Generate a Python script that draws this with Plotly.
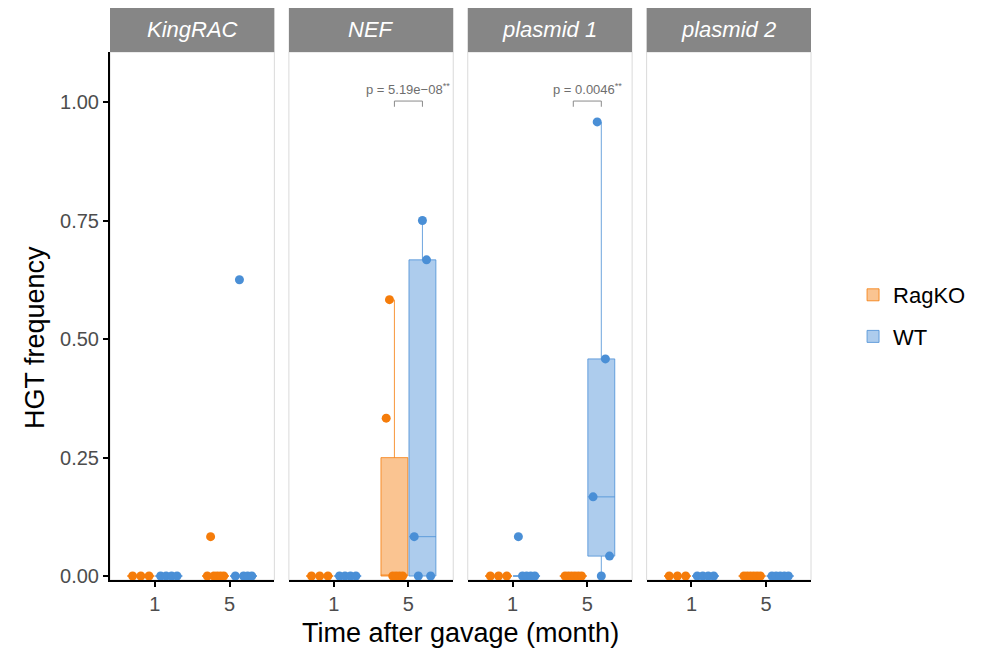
import numpy as np
import plotly.graph_objects as go
from plotly.subplots import make_subplots

# ---------------- data ----------------
panels = ["KingRAC", "NEF", "plasmid 1", "plasmid 2"]
time_labels = ["1", "5"]
groups = ["RagKO", "WT"]

# HGT frequency per mouse, [panel][time] for each genotype
ragko = {
    "KingRAC":   [[0, 0, 0], [0, 0.083, 0, 0, 0, 0]],
    "NEF":       [[0, 0, 0], [0.333, 0.583, 0, 0, 0, 0]],
    "plasmid 1": [[0, 0, 0], [0, 0, 0, 0, 0, 0]],
    "plasmid 2": [[0, 0, 0], [0, 0, 0, 0, 0, 0]],
}
wt = {
    "KingRAC":   [[0, 0, 0, 0], [0, 0.625, 0, 0, 0]],
    "NEF":       [[0, 0, 0, 0], [0.083, 0, 0.75, 0.667, 0]],
    "plasmid 1": [[0.083, 0, 0, 0, 0], [0.167, 0.958, 0, 0.458, 0.042]],
    "plasmid 2": [[0, 0, 0, 0], [0, 0, 0, 0, 0]],
}
# significance annotations (panel, time index, label)
sig_panels = ["NEF", "plasmid 1"]
sig_time = [1, 1]
sig_labels = ["p = 5.19e\u221208<sup>**</sup>", "p = 0.0046<sup>**</sup>"]

yticks = [0, 0.25, 0.5, 0.75, 1.0]
ytick_labels = ["0.00", "0.25", "0.50", "0.75", "1.00"]

# ---------------- style ----------------
colors = {"RagKO": "#F57C0A", "WT": "#4A8FD6"}
fills = {"RagKO": "rgba(245,124,10,0.45)", "WT": "rgba(74,143,214,0.45)"}
lines = {"RagKO": "rgba(245,124,10,0.8)", "WT": "rgba(74,143,214,0.8)"}
FONT = "Liberation Sans, Arial, sans-serif"
dodge = 0.1875
box_w = 0.36
jit = 0.11
strip_h = 44 / 528

fig = make_subplots(rows=1, cols=4, shared_yaxes=True, horizontal_spacing=0.0207)


def stats(vals):
    v = np.array(vals, dtype=float)
    q1, med, q3 = np.percentile(v, [25, 50, 75])
    iqr = q3 - q1
    lo = v[v >= q1 - 1.5 * iqr].min()
    hi = v[v <= q3 + 1.5 * iqr].max()
    return q1, med, q3, lo, hi


legend_done = set()
for pi, panel in enumerate(panels):
    col = pi + 1
    for gi, g in enumerate(groups):
        data = ragko if g == "RagKO" else wt
        off = -dodge if g == "RagKO" else dodge
        for ti in range(len(time_labels)):
            vals = data[panel][ti]
            pos = ti + 1 + off
            q1, med, q3, lo, hi = stats(vals)
            show = g not in legend_done
            legend_done.add(g)
            fig.add_trace(go.Box(
                x=[pos], q1=[q1], median=[med], q3=[q3],
                lowerfence=[lo], upperfence=[hi],
                width=box_w, whiskerwidth=0,
                fillcolor=fills[g], line=dict(color=lines[g], width=1),
                boxpoints=False, name=g, legendgroup=g, showlegend=show,
                hoverinfo="skip",
            ), row=1, col=col)
    for gi, g in enumerate(groups):
        data = ragko if g == "RagKO" else wt
        off = -dodge if g == "RagKO" else dodge
        for ti in range(len(time_labels)):
            vals = data[panel][ti]
            n = len(vals)
            offs = np.linspace(-jit, jit, n) if n > 1 else np.zeros(1)
            xs = ti + 1 + off + offs
            fig.add_trace(go.Scatter(
                x=xs, y=vals, mode="markers",
                marker=dict(color=colors[g], size=9),
                legendgroup=g, showlegend=False, hoverinfo="skip",
            ), row=1, col=col)

    xa = "x" if col == 1 else f"x{col}"
    ya = "y" if col == 1 else f"y{col}"
    # panel border
    fig.add_shape(type="rect", xref=f"{xa} domain", yref=f"{ya} domain",
                  x0=0, x1=1, y0=0, y1=1, line=dict(color="#DADADA", width=1),
                  layer="below")
    # strip
    fig.add_shape(type="rect", xref=f"{xa} domain", yref=f"{ya} domain",
                  x0=0, x1=1, y0=1, y1=1 + strip_h,
                  fillcolor="#868686", line=dict(color="#868686", width=0))
    fig.add_annotation(xref=f"{xa} domain", yref=f"{ya} domain",
                       x=0.5, y=1 + strip_h / 2, text=f"<i>{panel}</i>",
                       showarrow=False, yanchor="middle",
                       font=dict(family=FONT, size=22, color="white"))

    fig.update_xaxes(row=1, col=col, range=[0.4, 2.6], tickvals=[1, 2],
                     ticktext=time_labels, showgrid=False, zeroline=False,
                     showline=True, linecolor="black", linewidth=2,
                     ticks="outside", ticklen=5, tickwidth=1.5, tickcolor="black",
                     tickfont=dict(family=FONT, size=20, color="#4D4D4D"))
    fig.update_yaxes(row=1, col=col, range=[-0.0084, 1.1055], showgrid=False,
                     zeroline=False)

# significance brackets
for sp, st, lab in zip(sig_panels, sig_time, sig_labels):
    col = panels.index(sp) + 1
    xa = f"x{col}"
    ya = f"y{col}"
    x0 = st + 1 - dodge
    x1 = st + 1 + dodge
    yb, yt = 0.990, 1.002
    fig.add_shape(type="path", xref=xa, yref=ya,
                  path=f"M {x0},{yb} L {x0},{yt} L {x1},{yt} L {x1},{yb}",
                  line=dict(color="#8A8A8A", width=1))
    fig.add_annotation(xref=xa, yref=ya, x=st + 1, y=1.006, text=lab,
                       showarrow=False, yanchor="bottom", xanchor="center",
                       font=dict(family=FONT, size=13, color="#6E6E6E"))

fig.update_yaxes(row=1, col=1, tickvals=yticks, ticktext=ytick_labels,
                 showline=True, linecolor="black", linewidth=2,
                 ticks="outside", ticklen=5, tickwidth=1.5, tickcolor="black",
                 tickfont=dict(family=FONT, size=20, color="#4D4D4D"))
for c in [2, 3, 4]:
    fig.update_yaxes(row=1, col=c, showticklabels=False, ticks="", showline=False)

fig.add_annotation(xref="paper", yref="paper", x=0.5, y=-0.1, yanchor="middle",
                   text="Time after gavage (month)", showarrow=False,
                   font=dict(family=FONT, size=27, color="black"))
fig.add_annotation(xref="paper", yref="paper", x=-0.107, y=0.46, textangle=-90,
                   xanchor="center", yanchor="middle",
                   text="HGT frequency", showarrow=False,
                   font=dict(family=FONT, size=27, color="black"))

fig.update_layout(
    width=991, height=651,
    margin=dict(l=110, r=180, t=52, b=71),
    plot_bgcolor="white", paper_bgcolor="white",
    boxmode="overlay",
    showlegend=True,
    legend=dict(x=1.06, y=0.5, xanchor="left", yanchor="middle",
                font=dict(family=FONT, size=22, color="black"),
                bgcolor="rgba(0,0,0,0)"),
)

fig.write_html("out.html")
